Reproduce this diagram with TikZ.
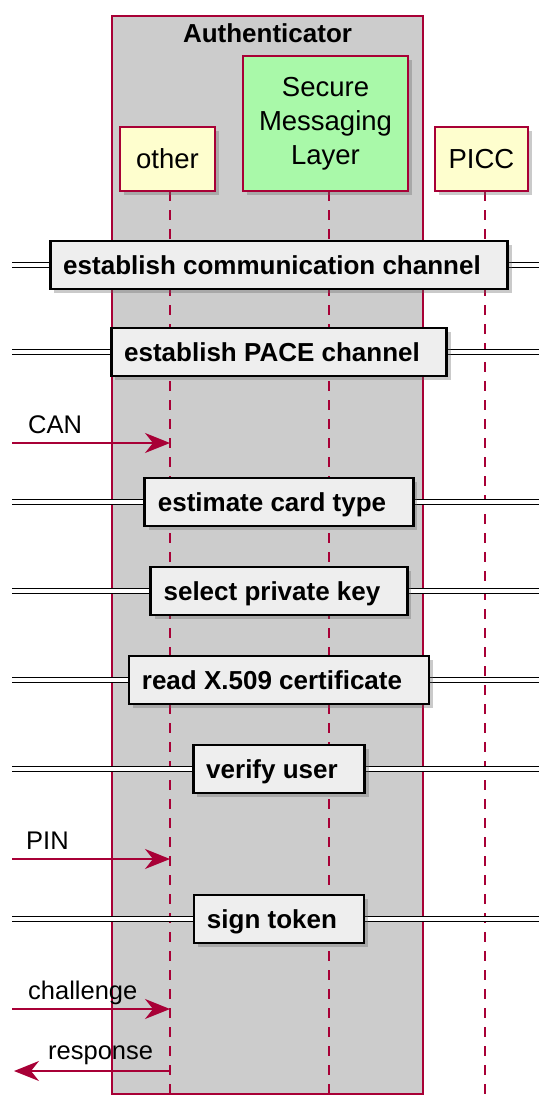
\documentclass[tikz,border=0pt]{standalone}
\usepackage{fontspec}
\setmainfont{Liberation Sans}
\usetikzlibrary{arrows.meta, shadows}
\definecolor{umlred}{HTML}{A80036}
\definecolor{umlyellow}{HTML}{FEFECE}
\definecolor{umlgreen}{HTML}{A9F9A9}
\definecolor{umlgray}{HTML}{CCCCCC}
\definecolor{divfill}{HTML}{EEEEEE}

\begin{document}
\begin{tikzpicture}[x=1pt, y=-1pt]
	\tikzstyle{partbox}=[rectangle, draw=umlred, line width=1.8pt, fill=umlyellow, align=center, font=\fontsize{27.5}{34}\selectfont, drop shadow={shadow xshift=4pt, shadow yshift=-4pt, fill=black!60, opacity=0.35}]
	\tikzstyle{lifeline}=[draw=umlred, line width=1.5pt, dash pattern=on 10pt off 9pt]
	\tikzstyle{divline}=[draw=black, line width=1.6pt, double=white, double distance=3.5pt]
	\tikzstyle{divbox}=[rectangle, draw=black, line width=2.8pt, fill=divfill, minimum height=48pt, inner xsep=13pt, text height=19pt, text depth=0pt, font=\bfseries\fontsize{26}{30}\selectfont, execute at end node={\hspace*{14pt}}, drop shadow={shadow xshift=4pt, shadow yshift=-4pt, fill=black!60, opacity=0.35}]
	\tikzstyle{msg}=[draw=umlred, line width=1.5pt, -{Stealth[length=25pt, width=20pt, inset=8pt]}]
	\tikzstyle{msglabel}=[inner sep=0pt, anchor=base west, font=\fontsize{25.5}{30}\selectfont]

	\useasboundingbox (0,0) rectangle (539,1102);

	% box round the authenticator
	\draw[draw=umlred, line width=1.5pt, fill=umlgray] (112,16) rectangle (423,1094);
	\node[font=\bfseries\fontsize{26}{30}\selectfont] (authtitle) at (267.5,33) {Authenticator};

	\coordinate (otherlife) at (170,191);
	\coordinate (smllife) at (329,191);
	\coordinate (picclife) at (485,191);
	\coordinate (bottom) at (0,1100);
	\foreach \p in {otherlife, smllife, picclife}{
		\draw[lifeline] (\p) -- (\p |- bottom);
	}

	\node[partbox, minimum width=95pt, minimum height=64pt] (other) at (167.5,159) {other};
	\node[partbox, fill=umlgreen, minimum width=165pt, minimum height=135pt] (sml) at (325.5,123.5) {Secure\\Messaging\\Layer};
	\node[partbox, minimum width=93pt, minimum height=64pt] (picc) at (481.5,159) {PICC};

	\foreach \y/\name/\txt in {265/commch/establish communication channel, 352/pacech/establish PACE channel, 502/cardtype/estimate card type, 591/privkey/select private key, 680/readcert/read X.509 certificate, 769/verify/verify user, 919/signtok/sign token}{
		\draw[divline] (12,\y) -- (539,\y);
		\node[divbox] (\name) at (279,\y) {\txt};
	}

	% messages
	\coordinate (canstart) at (12,443);
	\draw[msg] (canstart) -- (canstart -| otherlife);
	\node[msglabel] (canlbl) at (28,433) {CAN};

	\coordinate (pinstart) at (12,859);
	\draw[msg] (pinstart) -- (pinstart -| otherlife);
	\node[msglabel] (pinlbl) at (26,849) {PIN};

	\coordinate (chalstart) at (12,1009);
	\draw[msg] (chalstart) -- (chalstart -| otherlife);
	\node[msglabel] (challbl) at (28,999) {challenge};

	\coordinate (respend) at (14,1071);
	\draw[msg] (respend -| otherlife) -- (respend);
	\node[msglabel] (resplbl) at (48,1059) {response};
\end{tikzpicture}
\end{document}
